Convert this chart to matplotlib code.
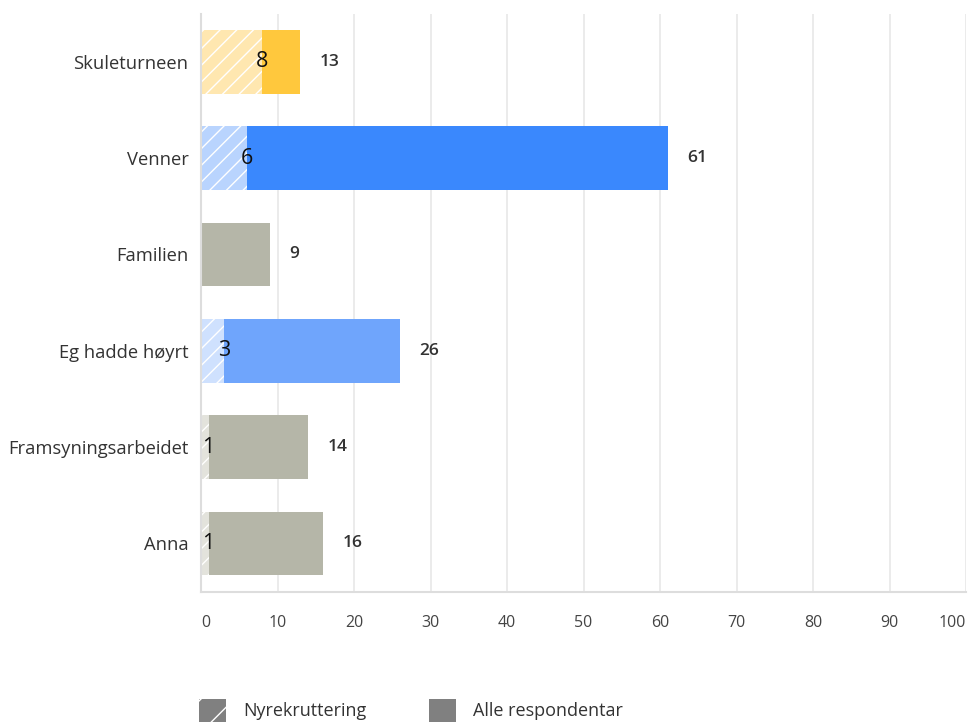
import matplotlib
matplotlib.use('Agg')
import matplotlib.pyplot as plt
from matplotlib.patches import Patch

## ---------------------- DATA -------------------------------
categories = ['Skuleturneen', 'Venner', 'Familien', 'Eg hadde høyrt',
              'Framsyningsarbeidet', 'Anna']
totals = [13, 61, 9, 26, 14, 16]
recruits = [8, 6, 0, 3, 1, 1]
xticks = [0, 10, 20, 30, 40, 50, 60, 70, 80, 90, 100]

solid_colors = ['#FFC83D', '#3A88FD', '#B5B6A8', '#6FA5FC', '#B5B6A8', '#B5B6A8']
light_colors = ['#FFE7B0', '#B9D4FE', '#E3E3DC', '#CFE1FE', '#E3E3DC', '#E3E3DC']

plt.rcParams['font.family'] = ['Open Sans', 'DejaVu Sans']
plt.rcParams['hatch.color'] = 'white'
plt.rcParams['hatch.linewidth'] = 1.0

fig = plt.figure(figsize=(9.71, 7.24), dpi=100)
ax = fig.add_axes([0.207, 0.183, 0.788, 0.798])

ypos = list(range(len(categories)))
rest = [t - r for t, r in zip(totals, recruits)]

ax.barh(ypos, recruits, height=0.66, color=light_colors, hatch='//', linewidth=0, zorder=2)
ax.barh(ypos, rest, left=recruits, height=0.66, color=solid_colors, linewidth=0, zorder=2)

for y, t, r in zip(ypos, totals, recruits):
    ax.text(t + 2.5, y, str(t), va='center', ha='left', fontsize=12.5,
            fontweight='semibold', color='#333333')
    if r > 0:
        ax.text(r, y, str(r), va='center', ha='center', fontsize=15.5, color='#111111', zorder=3)

ax.set_xlim(0, 100)
ax.set_ylim(len(categories) - 0.5, -0.5)
ax.set_yticks(ypos)
ax.set_yticklabels(categories, fontsize=13.2, color='#333333')
ax.set_xticks(xticks)
ax.set_xticklabels([str(v) for v in xticks], fontsize=11.5, color='#444444')
ax.tick_params(axis='both', length=0)
ax.tick_params(axis='x', pad=17)
ax.tick_params(axis='y', pad=9)
ax.get_xticklabels()[0].set_horizontalalignment('left')
ax.get_xticklabels()[-1].set_horizontalalignment('right')

ax.grid(axis='x', color='#E8E8E8', linewidth=1.2, zorder=0)
for s in ['top', 'right']:
    ax.spines[s].set_visible(False)
ax.spines['left'].set_color('#DDDDDD')
ax.spines['left'].set_linewidth(1.5)
ax.spines['bottom'].set_color('#DDDDDD')
ax.spines['bottom'].set_linewidth(1.5)

handles = [Patch(facecolor='#808080', hatch='/', linewidth=0, label='Nyrekruttering'),
           Patch(facecolor='#808080', linewidth=0, label='Alle respondentar')]
fig.legend(handles=handles, loc='lower left', bbox_to_anchor=(0.188, -0.019), ncol=2,
           frameon=False, fontsize=13, handlelength=1.5, handleheight=1.5,
           columnspacing=3.45, handletextpad=0.95, labelcolor='#333333')

fig.savefig('out.png', dpi=100)
